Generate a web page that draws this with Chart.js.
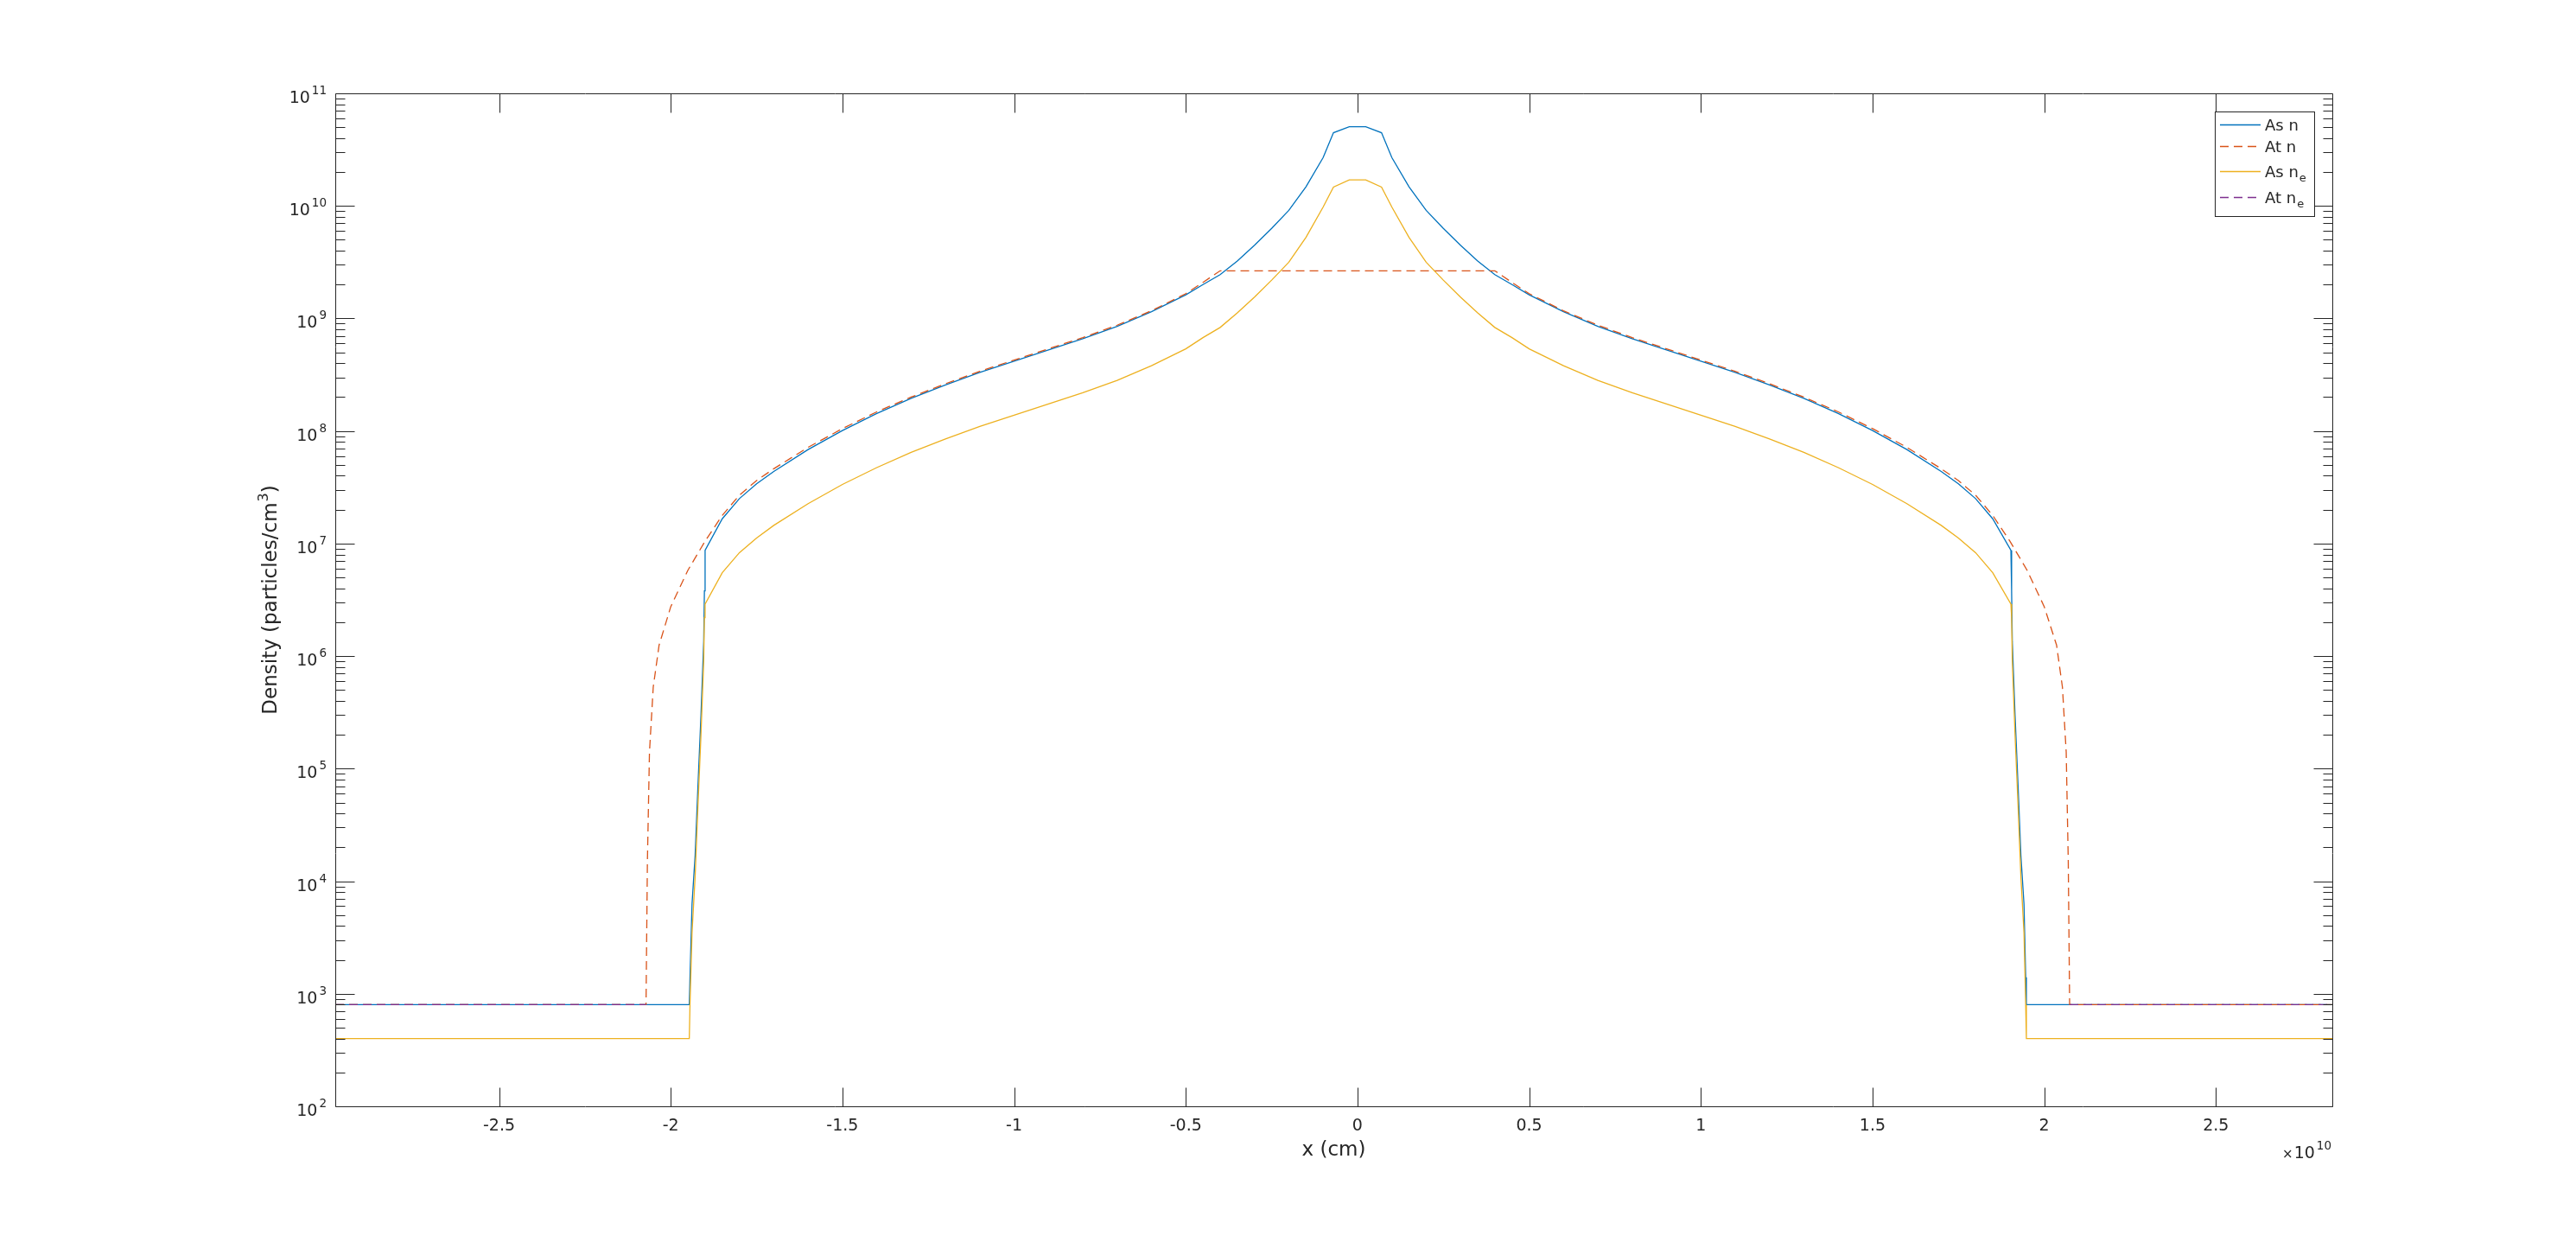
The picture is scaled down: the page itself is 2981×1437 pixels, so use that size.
<!DOCTYPE html>
<html>
<head>
<meta charset="utf-8">
<script src="https://cdn.jsdelivr.net/npm/chart.js@4.4.1/dist/chart.umd.min.js"></script>
<style>
  html, body { margin: 0; padding: 0; background: #fff; }
  canvas { display: block; }
</style>
</head>
<body>
<canvas id="densityChart" width="2981" height="1437"></canvas>
<script>
// x positions are in units of 1e10 cm (axis shows x10^10)
const asX = [-2.977, -1.946, -1.944, -1.938, -1.929, -1.921, -1.912, -1.904, -1.902, -1.900,
  -1.85, -1.8, -1.75, -1.7, -1.6, -1.5, -1.4, -1.3, -1.2, -1.1,
  -1.0, -0.9, -0.8, -0.7, -0.6, -0.5, -0.45, -0.4, -0.35, -0.3,
  -0.25, -0.2, -0.15, -0.1, -0.07, -0.024,
  0.024, 0.07, 0.1, 0.15, 0.2, 0.25,
  0.3, 0.35, 0.4, 0.45, 0.5, 0.6, 0.7, 0.8, 0.9, 1.0,
  1.1, 1.2, 1.3, 1.4, 1.5, 1.6, 1.7, 1.75, 1.8, 1.85,
  1.903, 1.905, 1.907, 1.915, 1.924, 1.932, 1.941, 1.946, 1.948, 2.839];

const asN = [800, 800, 1.4e3, 6.3e3, 1.7e4, 6.8e4, 3.0e5, 1.35e6, 3.8e6, 8.7e6,
  1.66e7, 2.51e7, 3.39e7, 4.37e7, 6.84e7, 1.01e8, 1.43e8, 1.95e8, 2.57e8, 3.31e8,
  4.17e8, 5.25e8, 6.61e8, 8.51e8, 1.15e9, 1.62e9, 2.0e9, 2.45e9, 3.24e9, 4.47e9,
  6.31e9, 9.12e9, 1.48e10, 2.69e10, 4.47e10, 5.05e10,
  5.05e10, 4.47e10, 2.69e10, 1.48e10, 9.12e9, 6.31e9,
  4.47e9, 3.24e9, 2.45e9, 2.0e9, 1.62e9, 1.15e9, 8.51e8, 6.61e8, 5.25e8, 4.17e8,
  3.31e8, 2.57e8, 1.95e8, 1.43e8, 1.01e8, 6.84e7, 4.37e7, 3.39e7, 2.51e7, 1.66e7,
  8.7e6, 3.8e6, 1.35e6, 3.0e5, 6.8e4, 1.7e4, 6.3e3, 1.4e3, 800, 800];

const asNe = [400, 400, 800, 3.5e3, 1.1e4, 4.5e4, 2.0e5, 9.0e5, 2.2e6, 2.9e6,
  5.5e6, 8.3e6, 1.12e7, 1.45e7, 2.26e7, 3.35e7, 4.73e7, 6.46e7, 8.51e7, 1.10e8,
  1.38e8, 1.74e8, 2.19e8, 2.82e8, 3.80e8, 5.37e8, 6.76e8, 8.32e8, 1.12e9, 1.55e9,
  2.19e9, 3.16e9, 5.25e9, 9.77e9, 1.47e10, 1.70e10,
  1.70e10, 1.47e10, 9.77e9, 5.25e9, 3.16e9, 2.19e9,
  1.55e9, 1.12e9, 8.32e8, 6.76e8, 5.37e8, 3.80e8, 2.82e8, 2.19e8, 1.74e8, 1.38e8,
  1.10e8, 8.51e7, 6.46e7, 4.73e7, 3.35e7, 2.26e7, 1.45e7, 1.12e7, 8.3e6, 5.5e6,
  2.9e6, 2.2e6, 9.0e5, 2.0e5, 4.5e4, 1.1e4, 3.5e3, 800, 400, 400];

const atX = [-2.977, -2.072, -2.068, -2.062, -2.051, -2.034, -2.0, -1.95, -1.9, -1.85,
  -1.8, -1.75, -1.7, -1.6, -1.5, -1.4, -1.3, -1.2, -1.1, -1.0,
  -0.9, -0.8, -0.7, -0.6, -0.5, -0.45, -0.4,
  0.4, 0.45, 0.5, 0.6, 0.7, 0.8, 0.9, 1.0, 1.1, 1.2,
  1.3, 1.4, 1.5, 1.6, 1.7, 1.75, 1.8, 1.85, 1.9, 1.95,
  2.0, 2.036, 2.053, 2.064, 2.070, 2.074, 2.839];

const atN = [800, 800, 1.5e4, 1.4e5, 5.3e5, 1.25e6, 2.75e6, 5.8e6, 1.05e7, 1.78e7,
  2.69e7, 3.63e7, 4.62e7, 7.16e7, 1.05e8, 1.48e8, 2.0e8, 2.63e8, 3.39e8, 4.27e8,
  5.37e8, 6.76e8, 8.71e8, 1.17e9, 1.66e9, 2.09e9, 2.65e9,
  2.65e9, 2.09e9, 1.66e9, 1.17e9, 8.71e8, 6.76e8, 5.37e8, 4.27e8, 3.39e8, 2.63e8,
  2.0e8, 1.48e8, 1.05e8, 7.16e7, 4.62e7, 3.63e7, 2.69e7, 1.78e7, 1.05e7, 5.8e6,
  2.75e6, 1.25e6, 5.3e5, 1.4e5, 1.5e4, 800, 800];

const atNeX = [-2.977, -2.072, 0, 2.074, 2.839];
const atNe = [800, 800, null, 800, 800];

const xTicks = [-2.5, -2, -1.5, -1, -0.5, 0, 0.5, 1, 1.5, 2, 2.5];
const xTickLabels = ['-2.5', '-2', '-1.5', '-1', '-0.5', '0', '0.5', '1', '1.5', '2', '2.5'];
const yExponents = [2, 3, 4, 5, 6, 7, 8, 9, 10, 11];
const legendNames = [['As n', ''], ['At n', ''], ['As n', 'e'], ['At n', 'e']];
const seriesColors = ['#0072BD', '#D95319', '#EDB120', '#7E2F8E'];

const INK = '#262626';
const FONT = '"DejaVu Sans", "Liberation Sans", sans-serif';
const DASH = [10, 6];

function toPoints(xs, ys) {
  return xs.map((x, i) => ({ x: x, y: ys[i] }));
}

function crisp(v) {
  return Math.round(v) + 0.5;
}

// draws the MATLAB style box, inward ticks, labels and legend
const matlabAxes = {
  id: 'matlabAxes',
  afterDraw(chart) {
    const ctx = chart.ctx;
    const a = chart.chartArea;
    const xs = chart.scales.x;
    const ys = chart.scales.y;
    const L = crisp(a.left), R = crisp(a.right), T = crisp(a.top), B = crisp(a.bottom);

    ctx.save();
    ctx.strokeStyle = INK;
    ctx.lineWidth = 1;
    ctx.setLineDash([]);
    ctx.beginPath();
    xTicks.forEach(v => {
      const px = crisp(xs.getPixelForValue(v));
      ctx.moveTo(px, B); ctx.lineTo(px, B - 22);
      ctx.moveTo(px, T); ctx.lineTo(px, T + 22);
    });
    yExponents.forEach((e, i) => {
      const base = Math.pow(10, e);
      const py = crisp(ys.getPixelForValue(base));
      ctx.moveTo(L, py); ctx.lineTo(L + 22, py);
      ctx.moveTo(R, py); ctx.lineTo(R - 22, py);
      if (i < yExponents.length - 1) {
        for (let m = 2; m <= 9; m++) {
          const pm = crisp(ys.getPixelForValue(base * m));
          ctx.moveTo(L, pm); ctx.lineTo(L + 11, pm);
          ctx.moveTo(R, pm); ctx.lineTo(R - 11, pm);
        }
      }
    });
    ctx.rect(L, T, R - L, B - T);
    ctx.stroke();

    // tick labels
    ctx.fillStyle = INK;
    ctx.textBaseline = 'alphabetic';
    ctx.font = '19px ' + FONT;
    ctx.textAlign = 'center';
    xTicks.forEach((v, i) => {
      ctx.fillText(xTickLabels[i], xs.getPixelForValue(v), B + 27);
    });
    ctx.textAlign = 'right';
    yExponents.forEach(e => {
      const py = ys.getPixelForValue(Math.pow(10, e));
      ctx.font = '13.5px ' + FONT;
      const sw = ctx.measureText(String(e)).width;
      ctx.fillText(String(e), 378, py + 1);
      ctx.font = '19px ' + FONT;
      ctx.fillText('10', 378 - sw - 2, py + 11);
    });

    // exponent marker under the x axis
    ctx.font = '13.5px ' + FONT;
    const ew = ctx.measureText('10').width;
    ctx.fillText('10', 2698, 1330);
    ctx.font = '19px ' + FONT;
    const tw = ctx.measureText('10').width;
    ctx.fillText('10', 2698 - ew - 2, 1340);
    ctx.font = '15px ' + FONT;
    ctx.fillText('\u00d7', 2698 - ew - tw - 3, 1340);

    // axis titles
    ctx.font = '23px ' + FONT;
    ctx.textAlign = 'center';
    ctx.fillText('x (cm)', (a.left + a.right) / 2, 1337);

    ctx.save();
    ctx.translate(320, (a.top + a.bottom) / 2);
    ctx.rotate(-Math.PI / 2);
    const t1 = 'Density (particles/cm', t2 = '3', t3 = ')';
    ctx.font = '23px ' + FONT;
    const w1 = ctx.measureText(t1).width, w3 = ctx.measureText(t3).width;
    ctx.font = '16px ' + FONT;
    const w2 = ctx.measureText(t2).width;
    let sx = -(w1 + w2 + w3 + 1) / 2;
    ctx.textAlign = 'left';
    ctx.font = '23px ' + FONT;
    ctx.fillText(t1, sx, 0);
    ctx.font = '16px ' + FONT;
    ctx.fillText(t2, sx + w1 + 1, -10);
    ctx.font = '23px ' + FONT;
    ctx.fillText(t3, sx + w1 + w2 + 1, 0);
    ctx.restore();

    // legend
    const lx = 2563, ly = 129, lw = 115, lh = 121;
    const rowsY = [144, 169, 198, 228];
    ctx.fillStyle = '#ffffff';
    ctx.fillRect(lx, ly, lw, lh);
    ctx.strokeStyle = INK;
    ctx.lineWidth = 1;
    ctx.strokeRect(lx + 0.5, ly + 0.5, lw, lh);
    chart.data.datasets.forEach((ds, i) => {
      const yy = rowsY[i] + 0.5;
      ctx.strokeStyle = seriesColors[i];
      ctx.lineWidth = 1.3;
      ctx.setLineDash(ds.borderDash || []);
      ctx.beginPath();
      ctx.moveTo(2569, yy);
      ctx.lineTo(2616, yy);
      ctx.stroke();
      ctx.setLineDash([]);
      ctx.fillStyle = INK;
      ctx.textAlign = 'left';
      ctx.font = '18px ' + FONT;
      ctx.fillText(legendNames[i][0], 2621, rowsY[i] + 7);
      if (legendNames[i][1]) {
        const nw = ctx.measureText(legendNames[i][0]).width;
        ctx.font = '13px ' + FONT;
        ctx.fillText(legendNames[i][1], 2621 + nw + 1, rowsY[i] + 12);
      }
    });
    ctx.restore();
  }
};

new Chart(document.getElementById('densityChart'), {
  type: 'line',
  data: {
    datasets: [
      { label: 'As n', data: toPoints(asX, asN), borderColor: seriesColors[0], order: 4 },
      { label: 'At n', data: toPoints(atX, atN), borderColor: seriesColors[1], borderDash: DASH, order: 3 },
      { label: 'As ne', data: toPoints(asX, asNe), borderColor: seriesColors[2], order: 2 },
      { label: 'At ne', data: toPoints(atNeX, atNe), borderColor: seriesColors[3], borderDash: DASH, order: 1 }
    ]
  },
  options: {
    responsive: false,
    animation: false,
    devicePixelRatio: 1,
    spanGaps: false,
    layout: { padding: { left: 388, right: 282, top: 108, bottom: 157 } },
    elements: {
      line: { borderWidth: 1.3, tension: 0, fill: false },
      point: { radius: 0, hoverRadius: 0 }
    },
    scales: {
      x: { type: 'linear', min: -2.977, max: 2.839, display: false },
      y: { type: 'logarithmic', min: 100, max: 1e11, display: false }
    },
    plugins: {
      legend: { display: false },
      tooltip: { enabled: false }
    }
  },
  plugins: [matlabAxes]
});
</script>
</body>
</html>
